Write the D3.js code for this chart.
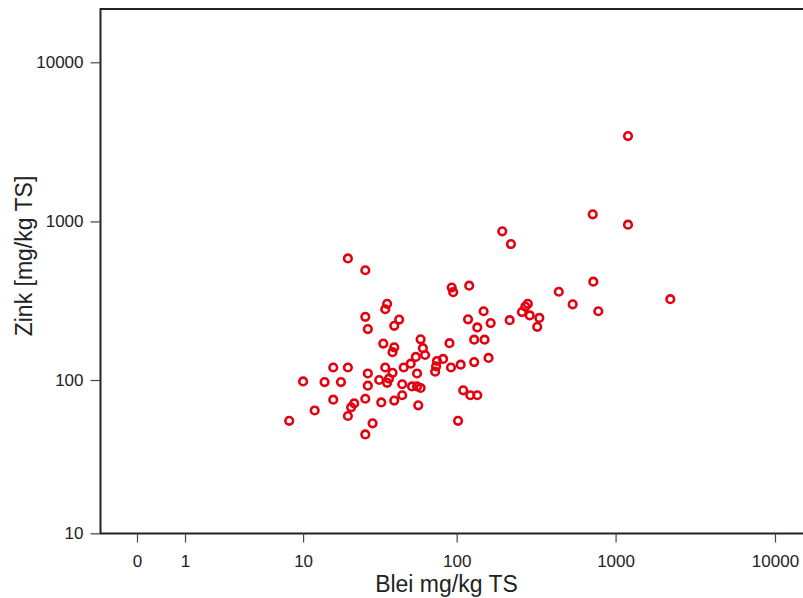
<!DOCTYPE html>
<html>
<head>
<meta charset="utf-8">
<script src="https://cdn.jsdelivr.net/npm/d3@7/dist/d3.min.js"></script>
<style>
  html, body { margin: 0; padding: 0; background: #fff; }
  svg { display: block; font-family: "Liberation Sans", Arial, Helvetica, sans-serif; }
</style>
</head>
<body>
<svg id="chart" width="803" height="598"></svg>
<script>
// Lead (Blei) and zinc (Zink) concentrations, mg/kg dry matter (TS)
const blei = [
  1197, 719, 1197, 194, 220, 20, 26, 120, 93, 95,
  725, 440, 2205, 538, 779, 36, 35, 26, 43, 40,
  27, 148, 118, 135, 164, 216, 281, 271, 258, 289,
  332, 322, 129, 150, 90, 59, 61, 63, 55, 159,
  129, 106, 92, 82, 75, 74, 73, 56, 110, 122,
  135, 57, 102, 34, 40, 39, 51, 46, 35, 39,
  37, 36, 32, 27, 27, 45, 52, 56, 59, 16,
  20, 10, 14, 18, 16, 26, 33, 40, 45, 22,
  21, 20, 12, 8, 29, 26
];
const zink = [
  3440, 1109, 954, 867, 721, 585, 493, 394, 384, 359,
  418, 361, 324, 301, 272, 303, 280, 251, 241, 220,
  210, 272, 242, 215, 229, 239, 303, 291, 269, 256,
  247, 217, 180, 180, 171, 181, 159, 144, 140, 138,
  130, 125, 120, 136, 132, 122, 113, 110, 86, 80,
  80, 69, 55, 170, 161, 150, 127, 120, 120, 111,
  102, 96, 100, 110, 92, 94, 91, 91, 89, 120,
  120, 98, 97, 97, 75, 76, 72, 74, 80, 71,
  67, 59, 64, 55, 53, 45
];
const xTicks = [0, 1, 10, 100, 1000, 10000];
const yTicks = [10, 100, 1000, 10000];
const xTitle = "Blei mg/kg TS";
const yTitle = "Zink [mg/kg TS]";

const points = blei.map((b, i) => ({ x: b, y: zink[i] }));

const svg = d3.select("#chart");
const ink = "#222";
const frame = { left: 100.5, top: 9, right: 815, bottom: 533.5 };

// log(1 + v) scales on both axes
const x = d3.scaleSymlog().constant(1).domain([0, 10000]).range([137, 775]);
const y = d3.scaleSymlog().constant(1).domain([10, 10000]).range([533.3, 62.3]);

// plot frame (open on the right)
svg.append("path")
  .attr("d", `M${frame.right},${frame.top}H${frame.left}V${frame.bottom}H${frame.right}`)
  .attr("fill", "none")
  .attr("stroke", ink)
  .attr("stroke-width", 2);

// x axis
const xAxis = svg.append("g")
  .attr("transform", `translate(0,${frame.bottom})`)
  .call(d3.axisBottom(x).tickValues(xTicks).tickFormat(d3.format("d")).tickSize(9).tickPadding(12));
xAxis.select(".domain").remove();
xAxis.selectAll(".tick line").attr("stroke", "#444").attr("stroke-width", 1.2);
xAxis.selectAll(".tick text")
  .attr("fill", ink)
  .style("font-size", "17px");

// y axis
const yAxis = svg.append("g")
  .attr("transform", `translate(${frame.left},0)`)
  .call(d3.axisLeft(y).tickValues(yTicks).tickFormat(d3.format("d")).tickSize(10).tickPadding(7));
yAxis.select(".domain").remove();
yAxis.selectAll(".tick line").attr("stroke", "#444").attr("stroke-width", 1.2);
yAxis.selectAll(".tick text")
  .attr("fill", ink)
  .style("font-size", "17px");

// axis titles
svg.append("text")
  .attr("x", 446.5)
  .attr("y", 592)
  .attr("text-anchor", "middle")
  .attr("fill", ink)
  .style("font-size", "23px")
  .text(xTitle);

svg.append("text")
  .attr("transform", "translate(31.5,256) rotate(-90)")
  .attr("text-anchor", "middle")
  .attr("fill", ink)
  .style("font-size", "23px")
  .text(yTitle);

// data points
svg.append("g")
  .selectAll("circle")
  .data(points)
  .join("circle")
  .attr("cx", d => x(d.x))
  .attr("cy", d => y(d.y))
  .attr("r", 3.8)
  .attr("fill", "none")
  .attr("stroke", "#e3000f")
  .attr("stroke-width", 2.6);
</script>
</body>
</html>
